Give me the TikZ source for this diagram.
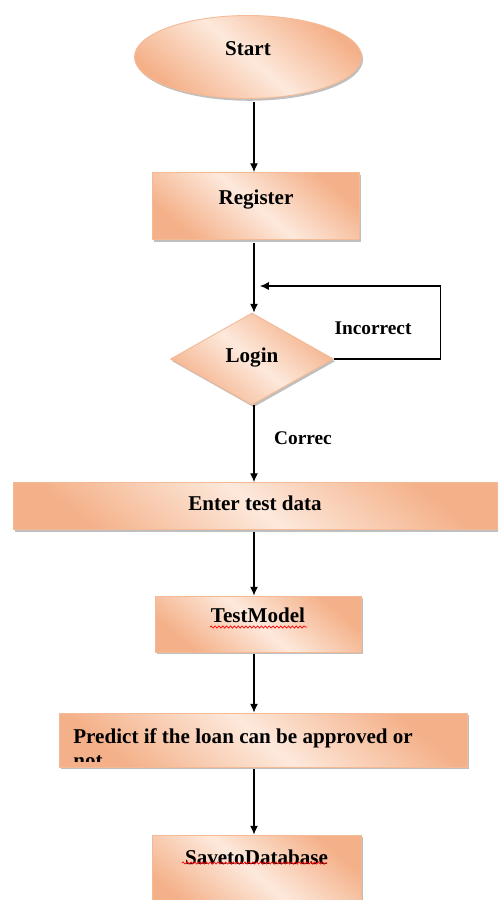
\documentclass[tikz,border=0pt]{standalone}
\usepackage{fontspec}
\setmainfont{Liberation Serif}
\usetikzlibrary{arrows.meta, shapes.geometric, shadows, calc, decorations.pathmorphing}
\definecolor{peachdark}{HTML}{F4B088}
\definecolor{peachlight}{HTML}{FDE9DC}
\definecolor{peachline}{HTML}{F4B995}

\tikzset{
  flowbox/.style={rectangle, draw=peachline, line width=0.5pt,
    top color=peachdark, bottom color=peachdark, middle color=peachlight, shading angle=-40,
    drop shadow={shadow xshift=0.9pt, shadow yshift=-1.3pt, opacity=0.45, fill=black!55},
    font=\bfseries\fontsize{12}{14}\selectfont, inner sep=0pt, text height=8pt, text depth=10pt},
  flowarrow/.style={-{Latex[length=5pt,width=4.5pt]}, line width=0.6pt},
  flowlabel/.style={font=\bfseries\fontsize{11}{13}\selectfont},
  squiggle/.style={red, line width=0.4pt, decorate,
    decoration={snake, amplitude=0.6pt, segment length=2.2pt}}
}

\begin{document}
\begin{tikzpicture}[x=0.02cm, y=-0.02cm]
\useasboundingbox (0,0) rectangle (498,900);
\clip (0,0) rectangle (498,900);
\fill[white] (0,0) rectangle (498,900);
\coordinate (axis) at (254,0);

% boxes
\node[flowbox, ellipse, minimum width=4.54cm, minimum height=1.66cm] (start) at (248,57) {Start};
\node[flowbox, minimum width=4.14cm, minimum height=1.34cm] (register) at (256,206) {Register};
\node[flowbox, diamond, minimum width=3.26cm, minimum height=1.84cm, text depth=4pt] (login) at (252,359) {Login};
\node[flowbox, minimum width=9.68cm, minimum height=0.94cm, text depth=3pt] (enter) at (255,506) {Enter test data};
\node[flowbox, minimum width=4.12cm, minimum height=1.12cm] (testmodel) at (258,624) {TestModel};
\node[flowbox, minimum width=8.16cm, minimum height=1.08cm] (predict) at (263,740) {};
\begin{scope}
  \clip (59,713) rectangle (467,761);
  \node[font=\bfseries\fontsize{12}{14}\selectfont, align=left, anchor=north west, inner sep=0pt]
    (predtext) at (73,728) {Predict if the loan can be approved or\\not};
\end{scope}
\node[flowbox, minimum width=4.18cm, minimum height=1.6cm, text depth=20.4pt] (save) at (256.5,875) {SavetoDatabase};

% spelling marks
\draw[squiggle] ($(testmodel.center)+(-48,3)$) -- ($(testmodel.center)+(49,3)$);
\draw[squiggle] ($(save.center)+(-74.5,-12)$) -- ($(save.center)+(70.5,-12)$);

% arrows
\draw[flowarrow] ($(start.south -| axis)+(0,3)$) -- (register.north -| axis);
\draw[flowarrow] ($(register.south -| axis)+(0,3)$) -- (login.north -| axis);
\draw[flowarrow] (login.south -| axis) -- (enter.north -| axis);
\draw[flowarrow] ($(enter.south -| axis)+(0,2)$) -- (testmodel.north -| axis);
\draw[flowarrow] ($(testmodel.south -| axis)+(0,2)$) -- (predict.north -| axis);
\draw[flowarrow] ($(predict.south -| axis)+(0,2)$) -- (save.north -| axis);
\coordinate (loopend) at (260,286);
\draw[flowarrow] (login.east) -- ++(107,0) |- (loopend);

% labels
\node[flowlabel] (incorrect) at (373,328) {Incorrect};
\node[flowlabel] (correct) at (303,438) {Correc};
\end{tikzpicture}
\end{document}
